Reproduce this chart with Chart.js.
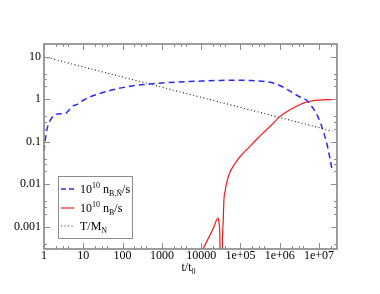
<!DOCTYPE html>
<html>
<head>
<meta charset="utf-8">
<script src="https://cdn.jsdelivr.net/npm/chart.js@4"></script>
<style>
  body { margin: 0; background: #fff; }
  canvas { display: block; }
</style>
</head>
<body>
<canvas id="chart" width="380" height="294"></canvas>
<script>
// t/t0 values and curves
const tBN = [1, 1.15, 1.3, 1.5, 1.8, 2.2, 3, 3.6, 4.5, 5.5, 7, 10, 15, 30, 50, 100, 200, 500, 1000, 3000,
  1e4, 3e4, 7e4, 2e5, 5e5, 8e5, 1.2e6, 2e6, 3e6, 5e6, 7e6, 9e6, 1.1e7, 1.3e7, 1.6e7, 1.9e7, 2.2e7];
const nBN = [0.06, 0.17, 0.26, 0.34, 0.42, 0.45, 0.46, 0.47, 0.58, 0.7, 0.76, 0.95, 1.15, 1.42, 1.63, 1.88, 2.1, 2.3, 2.42, 2.56,
  2.68, 2.78, 2.82, 2.75, 2.55, 2.3, 1.95, 1.48, 1.18, 0.92, 0.62, 0.42, 0.27, 0.17, 0.085, 0.04, 0.019];

const tB = [1e4, 1.5e4, 2e4, 2.7e4, 2.85e4, 3.0e4, 3.1e4, 3.4e4, 3.47e4, 3.63e4, 3.8e4, 4.1e4, 4.47e4, 5.25e4, 6.6e4, 8.9e4,
  1.17e5, 1.45e5, 2e5, 2.8e5, 3.8e5, 6.3e5, 1e6, 1.58e6, 2.7e6, 4e6, 5.9e6, 1e7, 1.6e7, 2.2e7];
const nB = [2.4e-4, 5.2e-4, 8.9e-4, 0.0016, 0.0012, 0.0005, 1e-5, 1e-5, 3.2e-4, 0.0013, 0.0044, 0.0071, 0.011, 0.018, 0.027, 0.040,
  0.054, 0.066, 0.089, 0.123, 0.162, 0.254, 0.39, 0.525, 0.685, 0.81, 0.90, 0.955, 0.977, 0.982];

const tTM = [1, 10, 100, 1000, 1e4, 1e5, 1e6, 1e7, 2.2e7];
const TM = [10, 5.78, 3.34, 1.93, 1.11, 0.645, 0.373, 0.215, 0.178];

const xTicks = [1, 10, 100, 1000, 10000, 1e5, 1e6, 1e7];
const xTickLabels = ['1', '10', '100', '1000', '10000', '1e+05', '1e+06', '1e+07'];
const yTicks = [0.001, 0.01, 0.1, 1, 10];
const yTickLabels = ['0.001', '0.01', '0.1', '1', '10'];

const pts = (xs, ys) => xs.map((x, i) => ({ x: x, y: ys[i] }));

const SERIF = '"Liberation Serif", "DejaVu Serif", serif';
const AXIS_COLOR = '#8c8c8c';

// draws a piece of text with sub/superscripts, parts = [[text, 'n'|'sup'|'sub'], ...]
function richText(ctx, parts, x, y) {
  parts.forEach(p => {
    let size = 12, dy = 0;
    if (p[1] === 'sup') { size = 8; dy = -5; }
    if (p[1] === 'sub') { size = 8; dy = 3; }
    ctx.font = size + 'px ' + SERIF;
    ctx.fillText(p[0], x, y + dy);
    x += ctx.measureText(p[0]).width;
  });
}

const framePlugin = {
  id: 'frame',
  afterDraw(chart) {
    const ctx = chart.ctx;
    const a = chart.chartArea;
    const xs = chart.scales.x, ys = chart.scales.y;
    ctx.save();

    // frame
    ctx.strokeStyle = AXIS_COLOR;
    ctx.lineWidth = 1.7;
    ctx.strokeRect(a.left, a.top, a.right - a.left, a.bottom - a.top);

    // ticks, inward on all four sides
    ctx.lineWidth = 1;
    const minors = [2, 3, 4];
    const tick = (px, len, vertical) => {
      ctx.beginPath();
      if (vertical) {
        ctx.moveTo(px, a.bottom); ctx.lineTo(px, a.bottom - len);
        ctx.moveTo(px, a.top); ctx.lineTo(px, a.top + len);
      } else {
        ctx.moveTo(a.left, px); ctx.lineTo(a.left + len, px);
        ctx.moveTo(a.right, px); ctx.lineTo(a.right - len, px);
      }
      ctx.stroke();
    };
    xTicks.forEach(v => {
      tick(Math.round(xs.getPixelForValue(v)) + 0.5, 6, true);
      minors.forEach(m => {
        const val = v * m;
        if (val < xs.max) tick(Math.round(xs.getPixelForValue(val)) + 0.5, 3, true);
      });
    });
    yTicks.forEach(v => {
      tick(Math.round(ys.getPixelForValue(v)) + 0.5, 6, false);
      minors.forEach(m => {
        const val = v * m;
        if (val < ys.max) tick(Math.round(ys.getPixelForValue(val)) + 0.5, 3, false);
      });
    });
    [0.0004].forEach(v => tick(Math.round(ys.getPixelForValue(v)) + 0.5, 3, false));

    // tick labels
    ctx.fillStyle = '#000';
    ctx.font = '12px ' + SERIF;
    ctx.textAlign = 'center';
    ctx.textBaseline = 'alphabetic';
    xTicks.forEach((v, i) => ctx.fillText(xTickLabels[i], xs.getPixelForValue(v), a.bottom + 10));
    ctx.textAlign = 'right';
    ctx.textBaseline = 'middle';
    yTicks.forEach((v, i) => ctx.fillText(yTickLabels[i], a.left - 3, ys.getPixelForValue(v)));

    // axis title
    ctx.textAlign = 'left';
    ctx.textBaseline = 'alphabetic';
    richText(ctx, [['t/t', 'n'], ['0', 'sub']], (a.left + a.right) / 2 - 9, a.bottom + 22);

    // legend
    const lx = 58, ly = 176, lw = 74, lh = 62;
    ctx.fillStyle = '#fff';
    ctx.fillRect(lx, ly, lw, lh);
    ctx.strokeStyle = AXIS_COLOR;
    ctx.lineWidth = 1;
    ctx.strokeRect(lx + 0.5, ly + 0.5, lw, lh);
    const rows = [
      { y: 189, color: 'rgb(40,40,255)', dash: [5, 3], width: 1.5,
        text: [['10', 'n'], ['10', 'sup'], [' n', 'n'], ['B,\u00d1', 'sub'], ['/s', 'n']] },
      { y: 208, color: 'rgb(255,20,20)', dash: [], width: 1.2,
        text: [['10', 'n'], ['10', 'sup'], [' n', 'n'], ['B', 'sub'], ['/s', 'n']] },
      { y: 226, color: '#222', dash: [1, 2.5], width: 1.2,
        text: [['T/M', 'n'], ['N', 'sub']] }
    ];
    rows.forEach(r => {
      ctx.strokeStyle = r.color;
      ctx.lineWidth = r.width;
      ctx.setLineDash(r.dash);
      ctx.beginPath();
      ctx.moveTo(61, r.y); ctx.lineTo(74, r.y);
      ctx.stroke();
      ctx.setLineDash([]);
      ctx.fillStyle = '#000';
      richText(ctx, r.text, 80, r.y + 4);
    });
    ctx.restore();
  }
};

new Chart(document.getElementById('chart').getContext('2d'), {
  type: 'line',
  data: {
    datasets: [
      {
        label: 'T/M_N',
        data: pts(tTM, TM),
        borderColor: '#222',
        borderWidth: 1.2,
        borderDash: [1, 2.5],
        pointRadius: 0
      },
      {
        label: 'n_B,N/s',
        data: pts(tBN, nBN),
        borderColor: 'rgb(40,40,255)',
        borderWidth: 1.5,
        borderDash: [6, 4],
        pointRadius: 0,
        cubicInterpolationMode: 'monotone'
      },
      {
        label: 'n_B/s',
        data: pts(tB, nB),
        borderColor: 'rgb(255,20,20)',
        borderWidth: 1.2,
        pointRadius: 0,
        cubicInterpolationMode: 'monotone'
      }
    ]
  },
  options: {
    responsive: false,
    animation: false,
    layout: { padding: { left: 44, right: 43, top: 44, bottom: 45 } },
    scales: {
      x: { type: 'logarithmic', min: 1, max: 2.86e7, display: false },
      y: { type: 'logarithmic', min: 3e-4, max: 20, display: false }
    },
    plugins: {
      legend: { display: false },
      tooltip: { enabled: false }
    }
  },
  plugins: [framePlugin]
});
</script>
</body>
</html>
